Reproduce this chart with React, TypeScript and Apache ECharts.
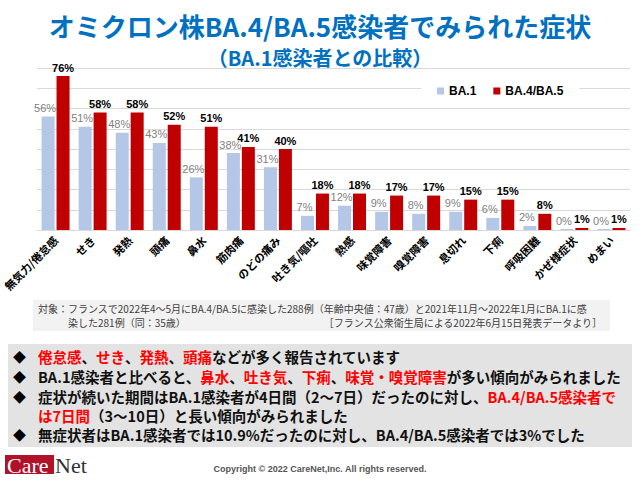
import React, { useEffect, useRef } from "react";
import * as echarts from "echarts";

const categories = [
  "無気力/倦怠感", "せき", "発熱", "頭痛", "鼻水", "筋肉痛", "のどの痛み", "吐き気/嘔吐",
  "熱感", "味覚障害", "嗅覚障害", "息切れ", "下痢", "呼吸困難", "かぜ様症状", "めまい",
];
const ba1 = [56, 51, 48, 43, 26, 38, 31, 7, 12, 9, 8, 9, 6, 2, 0, 0];
const ba45 = [76, 58, 58, 52, 51, 41, 40, 18, 18, 17, 17, 15, 15, 8, 1, 1];
const seriesNames = ["BA.1", "BA.4/BA.5"];

const titleText = "オミクロン株BA.4/BA.5感染者でみられた症状";
const subtitleText = "（BA.1感染者との比較）";
const noteLine1 = "対象：フランスで2022年4～5月にBA.4/BA.5に感染した288例（年齢中央値：47歳）と2021年11月～2022年1月にBA.1に感";
const noteLine2 = "染した281例（同：35歳）";
const noteSource = "［フランス公衆衛生局による2022年6月15日発表データより］";
const bullets = [
  "{r|倦怠感}、{r|せき}、{r|発熱}、{r|頭痛}などが多く報告されています",
  "BA.1感染者と比べると、{r|鼻水}、{r|吐き気}、{r|下痢}、{r|味覚・嗅覚障害}が多い傾向がみられました",
  "症状が続いた期間はBA.1感染者が4日間（2～7日）だったのに対し、{r|BA.4/BA.5感染者で}",
  "{r|は7日間}（3～10日）と長い傾向がみられました",
  "無症状者はBA.1感染者では10.9%だったのに対し、BA.4/BA.5感染者では3%でした",
];
const bulletMarks = [true, true, true, false, true];
const copyright = "Copyright © 2022 CareNet,Inc. All rights reserved.";

const JP = '"Noto Sans CJK JP", sans-serif';
const LAT = '"Liberation Sans", Arial, "Noto Sans CJK JP", sans-serif';

export default function App() {
  const ref = useRef<HTMLDivElement>(null);
  useEffect(() => {
    if (!ref.current) return;
    const chart = echarts.init(ref.current, undefined, { renderer: "svg" });
    const bulletY = [356, 376, 396, 415, 434];
    const bulletGraphics: any[] = [];
    bullets.forEach((b, i) => {
      if (bulletMarks[i]) {
        bulletGraphics.push({
          type: "text",
          x: 13,
          y: bulletY[i],
          style: { text: "◆", fill: "#000", font: `bold 13px ${JP}`, verticalAlign: "middle", lineHeight: 16 },
        });
      }
      bulletGraphics.push({
        type: "text",
        x: 38,
        y: bulletY[i],
        style: {
          text: b,
          fill: "#111",
          fontSize: 14.5,
          fontWeight: "bold",
          fontFamily: JP,
          verticalAlign: "middle",
          lineHeight: 18,
          rich: {
            r: { fill: "#ff0000", fontSize: 14.5, fontWeight: "bold", fontFamily: JP, lineHeight: 18 },
          },
        },
      });
    });

    const noteFont = { fill: "#404040", fontSize: 10, fontFamily: JP, verticalAlign: "middle", lineHeight: 12 };

    chart.setOption({
      animation: false,
      backgroundColor: "#ffffff",
      title: {
        text: titleText,
        subtext: subtitleText,
        left: "center",
        top: 2,
        itemGap: 0,
        textStyle: { color: "#0070C0", fontSize: 26, fontWeight: "bold", fontFamily: JP, lineHeight: 36 },
        subtextStyle: { color: "#0070C0", fontSize: 20, fontWeight: "bold", fontFamily: JP, lineHeight: 28 },
      },
      legend: {
        data: seriesNames,
        left: 421,
        top: 82,
        backgroundColor: "#ffffff",
        padding: [3, 16],
        itemWidth: 7,
        itemHeight: 7,
        itemGap: 17,
        icon: "rect",
        textStyle: { color: "#000", fontSize: 12, fontWeight: "bold", fontFamily: LAT },
      },
      grid: { left: 33, right: 10, top: 68, bottom: 250, containLabel: false },
      xAxis: {
        type: "category",
        data: categories,
        axisLine: { lineStyle: { color: "#d9d9d9" } },
        axisTick: { show: false },
        axisLabel: {
          rotate: 45,
          interval: 0,
          margin: 8,
          color: "#000",
          fontSize: 11,
          fontWeight: "bold",
          fontFamily: JP,
        },
      },
      yAxis: {
        type: "value",
        min: 0,
        max: 80,
        interval: 10,
        axisLabel: { show: false },
        axisLine: { show: false },
        axisTick: { show: false },
        splitLine: { lineStyle: { color: "#d9d9d9" } },
      },
      series: [
        {
          name: seriesNames[0],
          type: "bar",
          data: ba1,
          barWidth: 13,
          barGap: "15%",
          barMinHeight: 1,
          itemStyle: { color: "#b4c7e7" },
          label: {
            show: true,
            position: "top",
            distance: 3,
            offset: [-3, 0],
            formatter: "{c}%",
            color: "#7f7f7f",
            fontSize: 11,
            fontFamily: LAT,
          },
        },
        {
          name: seriesNames[1],
          type: "bar",
          data: ba45,
          barWidth: 13,
          barGap: "15%",
          itemStyle: { color: "#c00000" },
          label: {
            show: true,
            position: "top",
            distance: 3,
            formatter: "{c}%",
            color: "#000",
            fontSize: 11,
            fontWeight: "bold",
            fontFamily: LAT,
          },
        },
      ],
      graphic: [
        { type: "rect", shape: { x: 33, y: 300, width: 577, height: 31 }, style: { fill: "#f2f2f2" }, z: -1 },
        { type: "text", x: 38, y: 308.5, style: { text: noteLine1, ...noteFont } },
        { type: "text", x: 68, y: 322.5, style: { text: noteLine2, ...noteFont } },
        { type: "text", x: 602, y: 322.5, style: { text: noteSource, ...noteFont, align: "right" } },
        { type: "rect", shape: { x: 8, y: 344, width: 624, height: 103 }, style: { fill: "#e3e3e3" }, z: -1 },
        ...bulletGraphics,
        { type: "rect", shape: { x: 5, y: 455, width: 49, height: 19 }, style: { fill: "#b0122a" } },
        { type: "text", x: 7, y: 465, style: { text: "Care", fill: "#ffffff", font: `22px "Liberation Serif", "DejaVu Serif", serif`, verticalAlign: "middle" } },
        { type: "text", x: 55, y: 465, style: { text: "Net", fill: "#333333", font: `22px "Liberation Serif", "DejaVu Serif", serif`, verticalAlign: "middle" } },
        { type: "text", x: 320, y: 469, style: { text: copyright, fill: "#555555", font: `bold 9px ${LAT}`, align: "center", verticalAlign: "middle" } },
      ],
    });
    return () => chart.dispose();
  }, []);
  return (
    <div
      ref={ref}
      style={{ position: "absolute", left: 0, top: 0, width: 640, height: 480, background: "#fff" }}
    />
  );
}
